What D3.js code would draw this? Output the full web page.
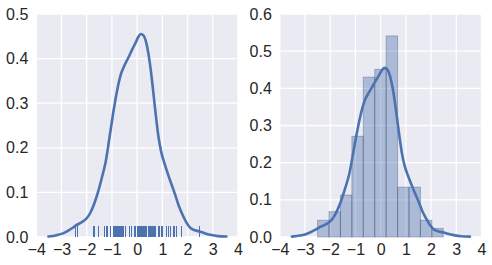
<!DOCTYPE html>
<html>
<head>
<meta charset="utf-8">
<script src="https://cdn.jsdelivr.net/npm/d3@7"></script>
<style>
	html, body { margin: 0; padding: 0; background: #fff; }
	text { font-family: "Liberation Sans", Arial, sans-serif; fill: #262626; }
</style>
</head>
<body>
<svg id="chart" width="492" height="265"></svg>
<script>
// kde curve (same curve in both panels)
var KDE_X = [-3.52, -3.2, -3.0, -2.8, -2.6, -2.4, -2.2, -2.0, -1.85, -1.7, -1.55, -1.4, -1.25, -1.1, -0.95, -0.8,
	-0.65, -0.5, -0.35, -0.2, -0.05, 0.05, 0.15, 0.25, 0.35, 0.45, 0.55, 0.65, 0.75, 0.85, 0.95, 1.1,
	1.3, 1.5, 1.65, 1.8, 1.95, 2.1, 2.3, 2.5, 2.7, 2.9, 3.2, 3.54];
var KDE_Y = [0.001, 0.004, 0.007, 0.012, 0.019, 0.027, 0.033, 0.042, 0.055, 0.075, 0.101, 0.133, 0.168, 0.222, 0.278, 0.327,
	0.364, 0.385, 0.402, 0.420, 0.437, 0.449, 0.455, 0.452, 0.438, 0.410, 0.370, 0.320, 0.268, 0.223, 0.192, 0.162,
	0.128, 0.096, 0.070, 0.050, 0.033, 0.021, 0.015, 0.012, 0.008, 0.005, 0.002, 0.001];

// rug positions (left panel)
var RUG = [-2.46, -2.36,
	-1.74, -1.72, -1.69,
	-1.55, -1.52, -1.29, -1.20, -1.16,
	-1.07, -0.94, -0.93, -0.90, -0.86, -0.82, -0.80, -0.78, -0.76, -0.74, -0.72, -0.70,
	-0.68, -0.67, -0.66, -0.65, -0.64, -0.63, -0.62, -0.61, -0.60, -0.59, -0.58, -0.57, -0.56, -0.55, -0.53, -0.47, -0.45, -0.31, -0.29,
	-0.22, -0.10, -0.08, 0.03, 0.04, 0.05, 0.06, 0.07, 0.08, 0.09, 0.10, 0.11, 0.12, 0.13, 0.14, 0.15, 0.16, 0.18, 0.19, 0.21,
	0.23, 0.25, 0.26, 0.28, 0.29, 0.31, 0.32, 0.34, 0.36, 0.38, 0.47, 0.48, 0.50, 0.51, 0.53, 0.54, 0.56, 0.57, 0.59, 0.60, 0.62, 0.64, 0.65, 0.67,
	0.69, 0.71, 0.86, 0.90, 0.95, 0.99,
	1.15, 1.24, 1.33, 1.44, 1.48, 1.55,
	1.74, 1.75,
	2.47];

// histogram (right panel)
var BIN_EDGES = [-2.50, -2.047, -1.594, -1.141, -0.688, -0.235, 0.218, 0.671, 1.124, 1.577, 2.030, 2.483];
var BIN_DENSITY = [0.045, 0.068, 0.113, 0.271, 0.430, 0.451, 0.541, 0.134, 0.134, 0.045, 0.023];

var X_TICKS = [-4, -3, -2, -1, 0, 1, 2, 3, 4];
var Y_TICKS_LEFT = [0, 0.1, 0.2, 0.3, 0.4, 0.5];
var Y_TICKS_RIGHT = [0, 0.1, 0.2, 0.3, 0.4, 0.5, 0.6];

CHART = {
	BLUE: '#4c72b0',
	TOP: 14,
	BOTTOM: 237,

	panel: function(svg, left, right, yTicks) {
		var x = d3.scaleLinear().domain([-4, 4]).range([left, right]);
		var y = d3.scaleLinear().domain([0, yTicks[yTicks.length - 1]]).range([CHART.BOTTOM, CHART.TOP]);
		var g = svg.append('g');

		g.append('rect')
			.attr('x', left)
			.attr('y', CHART.TOP)
			.attr('width', right - left)
			.attr('height', CHART.BOTTOM - CHART.TOP)
			.attr('fill', '#eaeaf2');

		g.selectAll('line.vgrid')
			.data(X_TICKS)
			.enter()
			.append('line')
			.attr('class', 'vgrid')
			.attr('x1', function (d) { return x(d); })
			.attr('x2', function (d) { return x(d); })
			.attr('y1', CHART.TOP)
			.attr('y2', CHART.BOTTOM)
			.attr('stroke', '#fff')
			.attr('stroke-width', 1.3);

		g.selectAll('line.hgrid')
			.data(yTicks)
			.enter()
			.append('line')
			.attr('class', 'hgrid')
			.attr('x1', left)
			.attr('x2', right)
			.attr('y1', function (d) { return y(d); })
			.attr('y2', function (d) { return y(d); })
			.attr('stroke', '#fff')
			.attr('stroke-width', 1.3);

		var xAxis = g.append('g')
			.attr('transform', 'translate(0,' + CHART.BOTTOM + ')')
			.call(d3.axisBottom(x).tickValues(X_TICKS).tickFormat(d3.format('d')).tickSize(0).tickPadding(7));
		var yAxis = g.append('g')
			.attr('transform', 'translate(' + left + ',0)')
			.call(d3.axisLeft(y).tickValues(yTicks).tickFormat(d3.format('.1f')).tickSize(0).tickPadding(8));

		[xAxis, yAxis].forEach(function (a) {
			a.select('.domain').remove();
			a.selectAll('text')
				.attr('fill', '#262626')
				.style('font-size', '16px')
				.style('font-family', '"Liberation Sans", Arial, sans-serif');
		});

		return { g: g, x: x, y: y };
	},

	kde: function(p) {
		var line = d3.line()
			.x(function (d) { return p.x(d[0]); })
			.y(function (d) { return p.y(d[1]); })
			.curve(d3.curveMonotoneX);

		p.g.append('path')
			.datum(d3.zip(KDE_X, KDE_Y))
			.attr('d', line)
			.attr('fill', 'none')
			.attr('stroke', CHART.BLUE)
			.attr('stroke-width', 2.6)
			.attr('stroke-linejoin', 'round')
			.attr('stroke-linecap', 'round');
	},

	init: function() {
		var svg = d3.select('#chart');

		var a = CHART.panel(svg, 36.3, 238, Y_TICKS_LEFT);

		a.g.selectAll('line.rug')
			.data(RUG)
			.enter()
			.append('line')
			.attr('class', 'rug')
			.attr('x1', function (d) { return a.x(d); })
			.attr('x2', function (d) { return a.x(d); })
			.attr('y1', CHART.BOTTOM)
			.attr('y2', CHART.BOTTOM - 0.05 * (CHART.BOTTOM - CHART.TOP))
			.attr('stroke', CHART.BLUE)
			.attr('stroke-width', 1)
			.attr('shape-rendering', 'crispEdges');

		CHART.kde(a);

		var b = CHART.panel(svg, 279.8, 481.5, Y_TICKS_RIGHT);

		b.g.selectAll('rect.bar')
			.data(BIN_DENSITY)
			.enter()
			.append('rect')
			.attr('class', 'bar')
			.attr('x', function (d, i) { return b.x(BIN_EDGES[i]); })
			.attr('width', function (d, i) { return b.x(BIN_EDGES[i + 1]) - b.x(BIN_EDGES[i]); })
			.attr('y', function (d) { return b.y(d); })
			.attr('height', function (d) { return b.y(0) - b.y(d); })
			.attr('fill', 'rgba(76,114,176,0.4)')
			.attr('stroke', 'rgba(40,50,80,0.3)')
			.attr('stroke-width', 1);

		CHART.kde(b);
	}
};

CHART.init();
</script>
</body>
</html>
